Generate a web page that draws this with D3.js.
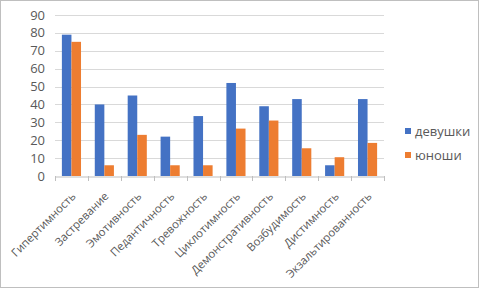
<!DOCTYPE html>
<html>
<head>
<meta charset="utf-8">
<script src="https://cdn.jsdelivr.net/npm/d3@7"></script>
<style>
  body { margin: 0; background: #fff; }
  svg { display: block; font-family: "Open Sans", "Liberation Sans", sans-serif; }
</style>
</head>
<body>
<div id="container"></div>
<script>
var width = 479, height = 288;

var categories = ["Гипертимность", "Застревание", "Эмотивность", "Педантичность", "Тревожность",
    "Циклотимность", "Демонстративность", "Возбудимость", "Дистимность", "Экзальтированность"];
var seriesNames = ["девушки", "юноши"];
var girls = [79, 40, 45, 22, 33.5, 52, 39, 43, 6, 43];
var boys = [75, 6, 23, 6, 6, 26.5, 31, 15.5, 10.5, 18.5];
var yTicks = [0, 10, 20, 30, 40, 50, 60, 70, 80, 90];
var colors = ["#4472c4", "#ed7d31"];

var margin = {left: 55, right: 95, top: 15, bottom: 112};

var svg = d3.select("#container").append("svg")
    .attr("width", width)
    .attr("height", height);

// outer frame
svg.append("rect")
    .attr("x", 0.5).attr("y", 0.5)
    .attr("width", width - 1).attr("height", height - 1)
    .attr("fill", "#fff")
    .attr("stroke", "#bfbfbf");

var x = d3.scaleBand()
    .domain(categories)
    .range([margin.left, width - margin.right]);

var x1 = d3.scaleBand()
    .domain([0, 1])
    .range([0, x.bandwidth()])
    .paddingInner(0)
    .paddingOuter(0.72);

var y = d3.scaleLinear()
    .domain([0, 90])
    .range([height - margin.bottom, margin.top]);

// grid
svg.append("g").selectAll("line")
    .data(yTicks.slice(1))
    .join("line")
    .attr("x1", margin.left).attr("x2", width - margin.right)
    .attr("y1", d => Math.round(y(d)) + 0.5).attr("y2", d => Math.round(y(d)) + 0.5)
    .attr("stroke", "#d9d9d9");

// y labels
svg.append("g").selectAll("text")
    .data(yTicks)
    .join("text")
    .attr("x", 45)
    .attr("y", d => y(d))
    .attr("dy", "0.35em")
    .attr("text-anchor", "end")
    .attr("fill", "#595959")
    .style("font-size", "13px")
    .text(d => d);

// bars
var data = categories.map((c, i) => ({cat: c, vals: [girls[i], boys[i]]}));
svg.append("g").selectAll("g")
    .data(data)
    .join("g")
    .attr("transform", d => "translate(" + x(d.cat) + ",0)")
    .selectAll("rect")
    .data(d => d.vals.map((v, k) => ({k: k, v: v})))
    .join("rect")
    .attr("x", d => x1(d.k))
    .attr("width", x1.bandwidth())
    .attr("y", d => y(d.v))
    .attr("height", d => y(0) - y(d.v))
    .attr("fill", d => colors[d.k]);

// x axis
var xAxis = d3.axisBottom(x).tickSize(0).tickFormat("");
var gx = svg.append("g")
    .attr("transform", "translate(0," + (Math.round(y(0)) + 0.5) + ")")
    .call(xAxis);
gx.select(".domain").attr("stroke", "#bfbfbf");

svg.append("g").selectAll("line")
    .data(categories.map(c => x(c)).concat([width - margin.right]))
    .join("line")
    .attr("x1", d => Math.round(d) + 0.5).attr("x2", d => Math.round(d) + 0.5)
    .attr("y1", y(0)).attr("y2", y(0) + 5)
    .attr("stroke", "#bfbfbf");

// x labels
svg.append("g").selectAll("text")
    .data(categories)
    .join("text")
    .attr("transform", d => "translate(" + (x(d) + x.bandwidth() / 2 + 5) + "," + (y(0) + 21) + ") rotate(-45)")
    .attr("text-anchor", "end")
    .attr("fill", "#595959")
    .style("font-size", "11.3px")
    .text(d => d);

// legend
var legend = svg.append("g").selectAll("g")
    .data(seriesNames)
    .join("g")
    .attr("transform", (d, i) => "translate(405," + (131 + i * 24) + ")");
legend.append("rect")
    .attr("x", 0).attr("y", -3)
    .attr("width", 6).attr("height", 6)
    .attr("fill", (d, i) => colors[i]);
legend.append("text")
    .attr("x", 10)
    .attr("dy", "0.35em")
    .attr("fill", "#595959")
    .style("font-size", "13px")
    .text(d => d);
</script>
</body>
</html>
